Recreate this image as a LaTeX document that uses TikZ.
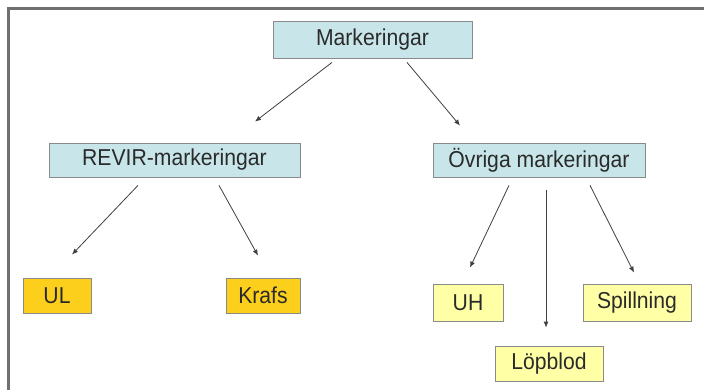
\documentclass[tikz,border=0pt]{standalone}
\usepackage{fontspec}
\setmainfont{Liberation Sans}[FakeStretch=0.92]
\usetikzlibrary{calc,arrows.meta}
\definecolor{boxblue}{HTML}{C8E6EA}
\definecolor{boxorange}{HTML}{FCCF1C}
\definecolor{boxyellow}{HTML}{FFFFA6}
\definecolor{boxline}{HTML}{8A8A8A}
\definecolor{txt}{HTML}{2A2A2A}
\definecolor{frameline}{HTML}{707070}
\definecolor{arrline}{HTML}{404040}
\tikzset{
  x=1pt,y=1pt,
  basebox/.style={draw=boxline, line width=0.8pt, inner sep=0pt, text=txt,
    font=\fontsize{23}{27}\selectfont},
  bluebox/.style={basebox, fill=boxblue},
  orangebox/.style={basebox, fill=boxorange},
  yellowbox/.style={basebox, fill=boxyellow},
  arr/.style={draw=arrline, line width=0.8pt, -{Latex[length=6pt,width=5pt]}}
}
\begin{document}
\begin{tikzpicture}
\useasboundingbox (0,0) rectangle (704,-390);
\fill[white] (0,0) rectangle (704,-390);
\draw[frameline, line width=2.5pt] (8.5,-390) -- (8.5,-8.5) -- (704,-8.5);

\node[bluebox, minimum width=199, minimum height=37] (m) at (372.5,-39.5) {Markeringar};
\node[bluebox, minimum width=251, minimum height=34] (r) at (174.5,-160) {REVIR-markeringar};
\node[bluebox, minimum width=212, minimum height=34] (o) at (539,-160) {Övriga markeringar};
\node[orangebox, minimum width=68, minimum height=35] (ul) at (57,-295.5) {UL};
\node[orangebox, minimum width=74, minimum height=35] (k) at (263,-295.5) {Krafs};
\node[yellowbox, minimum width=70, minimum height=37] (uh) at (468,-302.5) {UH};
\node[yellowbox, minimum width=108, minimum height=37] (sp) at (637,-302.5) {Spillning};
\node[yellowbox, minimum width=108, minimum height=35] (lb) at (549,-363.5) {Löpblod};

\draw[arr] ($(m.south)+(-40.5,-4)$) -- ($(r.north)+(80.5,21)$);
\draw[arr] ($(m.south)+(34.5,-4)$) -- ($(o.north)+(-79,17)$);
\draw[arr] ($(r.south)+(-36.5,-8)$) -- ($(ul.north)+(15,23)$);
\draw[arr] ($(r.south)+(44.5,-8)$) -- ($(k.north)+(-5,22)$);
\draw[arr] ($(o.south)+(-30,-8)$) -- ($(uh.north)+(2,16)$);
\draw[arr] ($(o.south)+(7,-13)$) -- ($(lb.north)+(-3,18)$);
\draw[arr] ($(o.south)+(51,-8)$) -- ($(sp.north)+(-3,11)$);
\end{tikzpicture}
\end{document}
